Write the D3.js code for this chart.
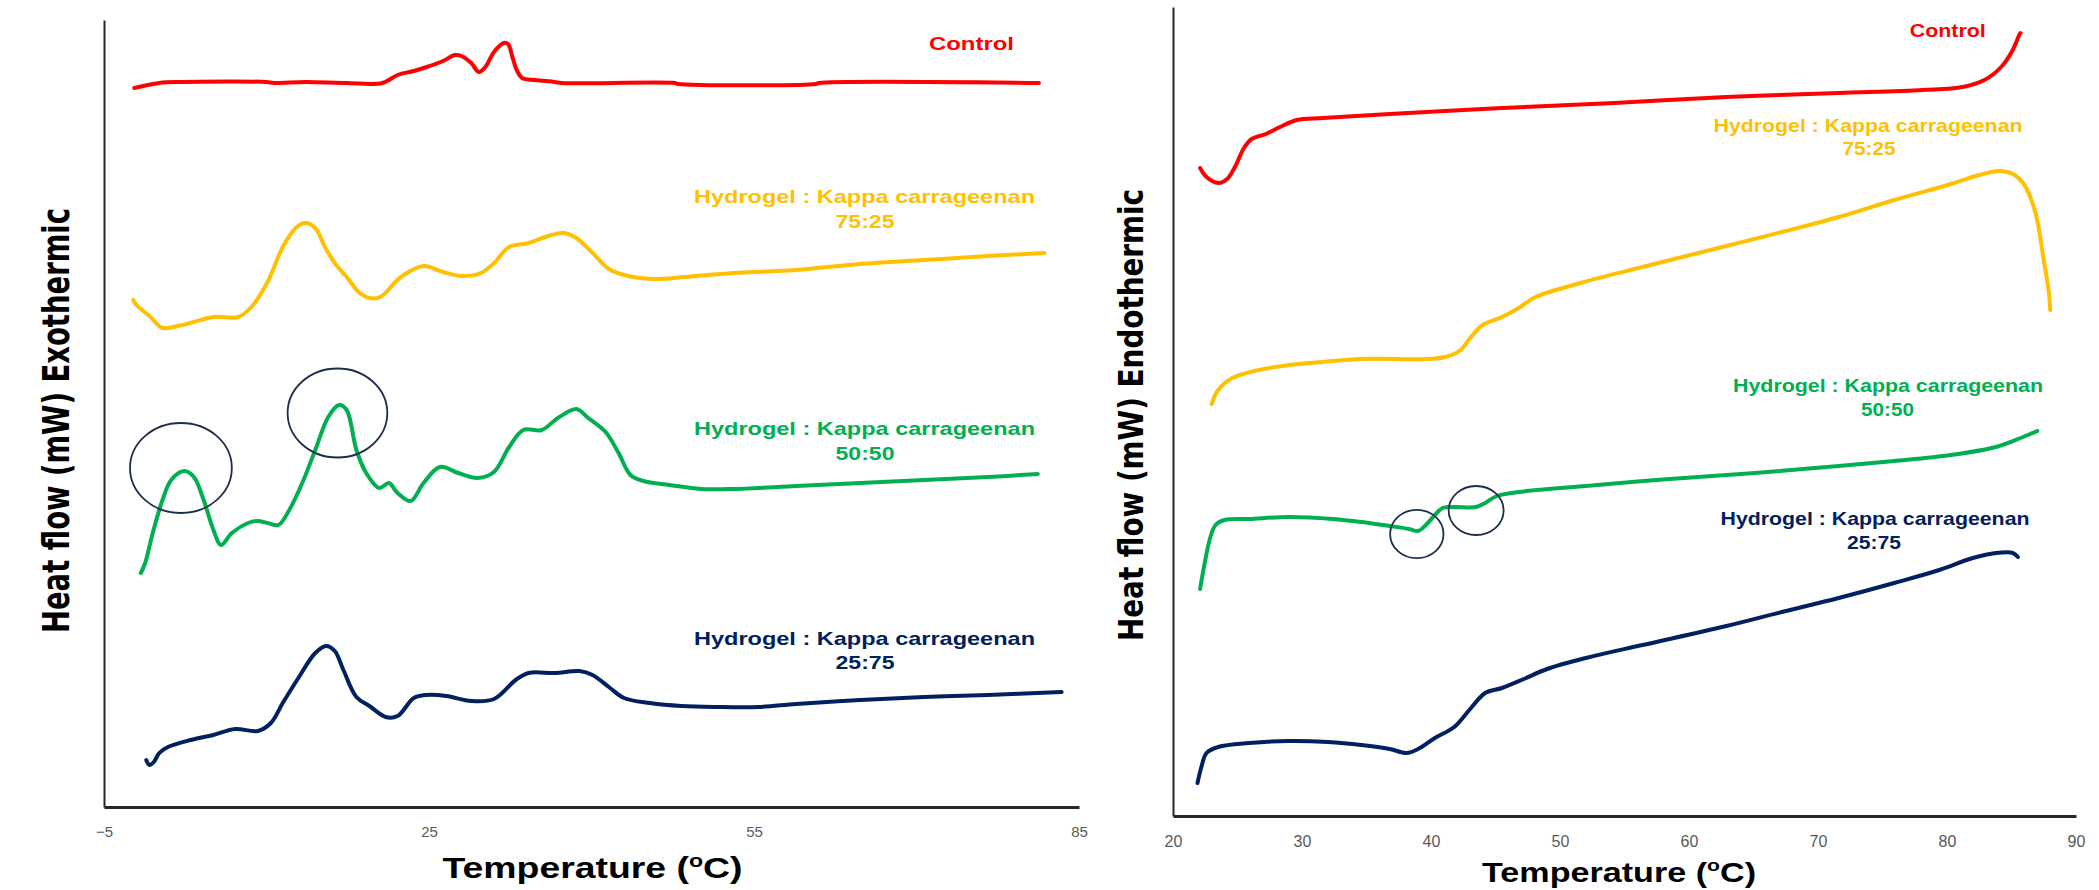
<!DOCTYPE html>
<html>
<head>
<meta charset="utf-8">
<script src="https://cdn.jsdelivr.net/npm/d3@7"></script>
<style>
html,body{margin:0;padding:0;background:#fff;}
svg{display:block;}
</style>
</head>
<body>
<svg id="chart" width="2099" height="890"></svg>
<script>
// ---------- DATA ----------
// Left panel (exothermic), temperature (°C) and heat flow (arbitrary mW units)
const leftTicks = [-5, 25, 55, 85];
const leftControlT = [-2.2,0.1,2.1,10.0,10.7,13.6,17.4,20.7,22.1,23.6,24.8,26.3,27.4,28.0,28.9,29.6,30.2,31.0,31.9,32.3,32.7,33.1,33.6,34.8,36.6,37.2,47.7,48.0,60.7,61.0,81.3];
const leftControlV = [71.9,72.4,72.5,72.5,72.4,72.5,72.4,72.4,73.2,73.6,74.0,74.6,75.2,75.1,74.4,73.5,74.0,75.5,76.4,76.3,75.0,73.7,72.9,72.7,72.5,72.4,72.4,72.3,72.3,72.4,72.4];
const left7525T = [-2.3,-2.0,-0.8,0.4,1.8,3.3,5.1,7.4,8.6,10.1,11.5,12.7,13.6,14.5,15.4,16.3,17.4,18.6,19.5,20.5,22.4,24.5,26.3,28.0,29.8,31.0,32.4,34.2,36.0,37.4,38.6,40.1,41.6,43.0,45.7,48.6,53.1,58.9,64.8,70.7,76.6,81.8];
const left7525V = [50.7,50.2,49.1,47.9,48.1,48.5,49.0,49.0,50.0,52.5,56.0,57.9,58.4,57.9,56.0,54.4,53.0,51.4,50.9,51.0,53.0,54.1,53.5,53.1,53.4,54.4,56.0,56.4,57.1,57.4,56.9,55.4,53.8,53.2,52.8,53.0,53.4,53.7,54.3,54.7,55.1,55.4];
const left5050T = [-1.6,-1.2,-0.5,0.4,1.2,2.4,3.3,4.2,5.1,5.8,6.8,8.3,9.2,10.1,11.1,12.1,13.3,14.5,15.7,16.7,17.4,18.3,19.2,20.4,21.3,22.1,23.3,24.5,26.0,27.7,29.5,31.0,32.4,33.7,35.4,36.9,38.6,39.7,41.3,42.5,43.6,44.8,47.2,50.1,53.1,58.9,64.8,70.7,76.6,81.2];
const left5050V = [23.4,24.4,27.4,30.7,32.7,33.6,33.0,30.7,27.7,26.2,27.4,28.4,28.6,28.4,28.2,29.7,32.4,35.7,39.0,40.2,39.7,35.7,33.4,31.9,32.4,31.4,30.6,32.4,34.0,33.4,32.9,33.5,36.0,37.7,37.7,38.9,39.8,38.9,37.5,35.4,33.2,32.6,32.2,31.8,31.8,32.1,32.4,32.7,33.0,33.3];
const left2575T = [-1.1,-0.8,-0.4,0.1,0.9,3.0,5.1,7.1,9.2,10.4,11.5,13.0,14.5,15.5,16.3,17.1,18.3,19.5,21.0,22.1,23.6,24.8,26.6,28.9,31.0,33.0,34.2,36.6,38.9,40.1,41.6,43.0,45.4,48.3,51.6,55.4,58.9,64.8,70.7,76.6,83.4];
const left2575V = [4.7,4.2,4.5,5.4,6.0,6.7,7.2,7.8,7.6,8.4,10.4,13.0,15.4,16.1,15.6,13.7,11.0,10.1,9.0,9.1,10.9,11.2,11.1,10.6,10.8,12.7,13.4,13.4,13.6,13.2,12.0,10.9,10.4,10.1,10.0,10.0,10.3,10.7,11.0,11.2,11.5];
// highlighted regions (centre T, centre V, half-width in °C, half-height in value units)
const leftMarksT = [2.1, 16.55];
const leftMarksV = [33.9, 39.4];
const leftMarksRT = [4.7, 4.6];
const leftMarksRV = [4.5, 4.45];

// Right panel (endothermic)
const rightTicks = [20, 30, 40, 50, 60, 70, 80, 90];
const rightControlT = [22.1,22.6,23.5,24.2,24.8,25.5,26.1,27.2,28.3,29.6,31.6,36.8,45.5,54.2,62.9,71.6,78.1,81.2,82.9,84.2,85.1,85.6,85.7];
const rightControlV = [64.8,63.9,63.3,63.7,64.9,66.8,67.7,68.2,68.9,69.6,69.8,70.2,70.8,71.3,71.9,72.3,72.6,72.9,73.6,74.9,76.6,78.1,78.3];
const right7525T = [23.0,23.5,24.6,26.3,29.0,31.6,34.6,39.8,41.1,42.2,43.1,44.0,45.5,46.8,48.1,51.6,56.4,62.9,67.2,71.6,75.9,80.3,82.5,84.0,85.1,85.9,86.8,87.5,87.9,88.0];
const right7525V = [41.2,42.6,43.8,44.5,45.1,45.4,45.7,45.7,45.9,46.5,47.9,49.1,49.9,50.8,51.9,53.3,54.9,57.0,58.4,59.9,61.6,63.2,64.1,64.5,64.2,63.3,60.6,55.6,52.3,50.6];
const right5050T = [22.1,22.4,22.9,23.3,24.0,25.9,29.0,32.4,34.6,36.8,38.3,39.0,39.6,40.3,40.9,41.8,43.5,44.2,45.1,46.8,52.0,58.5,65.1,71.6,75.9,80.3,83.8,85.9,87.0];
const right5050V = [22.7,24.9,27.9,29.1,29.6,29.7,29.9,29.7,29.4,29.0,28.7,28.5,29.1,30.1,30.8,30.9,30.9,31.3,32.0,32.4,33.0,33.7,34.3,35.0,35.5,36.1,36.9,37.9,38.5];
const right2575T = [21.9,22.2,22.6,23.5,25.9,29.0,32.0,34.6,36.8,38.1,39.0,40.3,41.8,43.1,44.2,45.5,47.2,49.0,52.0,56.4,62.9,67.2,71.6,75.9,79.4,82.0,83.8,85.1,85.5];
const right2575V = [3.3,4.9,6.3,6.9,7.3,7.5,7.4,7.1,6.7,6.3,6.7,7.8,8.9,10.8,12.3,12.8,13.7,14.7,15.8,17.1,19.0,20.4,21.8,23.3,24.6,25.8,26.3,26.3,25.9];
const rightMarksT = [38.9, 43.5];
const rightMarksV = [28.2, 30.55];
const rightMarksRT = [2.07, 2.13];
const rightMarksRV = [2.42, 2.45];

const seriesNames = ["Control", "Hydrogel : Kappa carrageenan", "Hydrogel : Kappa carrageenan", "Hydrogel : Kappa carrageenan"];
const seriesRatios = ["", "75:25", "50:50", "25:75"];
const colors = ["#FF0000", "#FFC000", "#00B050", "#002060"];

// ---------- DRAW ----------
const svg = d3.select("#chart");
svg.append("rect").attr("width", 2099).attr("height", 890).attr("fill", "#fff");

const xL = d3.scaleLinear().domain([-5, 85]).range([104, 1079]);
const yL = d3.scaleLinear().domain([0, 78.7]).range([807, 20]);
const xR = d3.scaleLinear().domain([20, 90]).range([1173, 2076]);
const yR = d3.scaleLinear().domain([0, 80.9]).range([816, 7]);

const labelFont = "'Liberation Sans', Arial, sans-serif";
const titleFont = "'DejaVu Sans', Verdana, sans-serif";

function drawPanel(cfg) {
  const g = svg.append("g");
  // axes
  const xa = g.append("g").attr("transform", `translate(0,${cfg.y.range()[0]})`)
    .call(d3.axisBottom(cfg.x).tickValues(cfg.ticks).tickSize(0).tickSizeOuter(0).tickFormat(d3.format("d")));
  xa.select(".domain").attr("stroke", "#262626").attr("stroke-width", 3);
  xa.selectAll("text").attr("y", cfg.tickY).attr("dy", 0)
    .attr("font-family", "'Liberation Sans Narrow', 'Liberation Sans', Arial, sans-serif")
    .attr("font-size", cfg.tickSize).attr("fill", "#595959");
  const ya = g.append("g").attr("transform", `translate(${cfg.x.range()[0]},0)`)
    .call(d3.axisLeft(cfg.y).tickValues([]).tickSizeOuter(0));
  ya.select(".domain").attr("stroke", "#262626").attr("stroke-width", 2);

  const line = d3.line().x(d => cfg.x(d[0])).y(d => cfg.y(d[1])).curve(d3.curveCatmullRom.alpha(0.5));
  cfg.series.forEach((s, i) => {
    const pts = d3.zip(s[0], s[1]);
    g.append("path").datum(pts).attr("d", line)
      .attr("fill", "none").attr("stroke", colors[i]).attr("stroke-width", 4)
      .attr("stroke-linejoin", "round").attr("stroke-linecap", "round");
  });

  // highlight ellipses
  cfg.marks[0].forEach((t, i) => {
    const cx = cfg.x(t), cy = cfg.y(cfg.marks[1][i]);
    g.append("ellipse").attr("cx", cx).attr("cy", cy)
      .attr("rx", cfg.x(t + cfg.marks[2][i]) - cx)
      .attr("ry", cy - cfg.y(cfg.marks[1][i] + cfg.marks[3][i]))
      .attr("fill", "none").attr("stroke", "#1F2D4D").attr("stroke-width", 1.8);
  });

  // series labels
  cfg.labels.forEach((l, i) => {
    g.append("text").attr("x", l[0]).attr("y", l[1]).attr("text-anchor", "middle")
      .attr("font-family", labelFont).attr("font-weight", "bold").attr("font-size", 19)
      .attr("fill", colors[i]).attr("textLength", l[2]).attr("lengthAdjust", "spacingAndGlyphs")
      .text(seriesNames[i]);
    if (seriesRatios[i]) {
      g.append("text").attr("x", l[3]).attr("y", l[4]).attr("text-anchor", "middle")
        .attr("font-family", labelFont).attr("font-weight", "bold").attr("font-size", 19)
        .attr("fill", colors[i]).attr("textLength", l[5]).attr("lengthAdjust", "spacingAndGlyphs")
        .text(seriesRatios[i]);
    }
  });

  // x title
  const fs = cfg.xTitle[3];
  const xt = g.append("text").attr("x", cfg.xTitle[0]).attr("y", cfg.xTitle[1]).attr("text-anchor", "middle")
    .attr("font-family", labelFont).attr("font-weight", "bold").attr("font-size", fs)
    .attr("fill", "#000").attr("textLength", cfg.xTitle[2]).attr("lengthAdjust", "spacingAndGlyphs");
  xt.append("tspan").text("Temperature (");
  xt.append("tspan").attr("dy", -fs * 0.38).attr("font-size", fs * 0.62).text("o");
  xt.append("tspan").attr("dy", fs * 0.38).text("C)");

  // y title
  g.append("text").attr("transform", `translate(${cfg.yTitle[0]},${cfg.yTitle[1]}) rotate(-90)`)
    .attr("text-anchor", "middle").attr("font-family", titleFont).attr("font-weight", "bold")
    .attr("font-size", cfg.yTitle[3]).attr("fill", "#000")
    .attr("textLength", cfg.yTitle[2]).attr("lengthAdjust", "spacingAndGlyphs")
    .text(cfg.yTitle[4]);
}

drawPanel({
  x: xL, y: yL, ticks: leftTicks, tickY: 30, tickSize: 15,
  series: [[leftControlT, leftControlV], [left7525T, left7525V], [left5050T, left5050V], [left2575T, left2575V]],
  marks: [leftMarksT, leftMarksV, leftMarksRT, leftMarksRV],
  labels: [[971.5, 50, 85], [864.5, 202.7, 341, 865, 228.3, 59], [864.5, 434.5, 341, 865, 459.5, 59], [864.5, 644.5, 341, 865, 669, 59]],
  xTitle: [592.5, 878, 300, 29],
  yTitle: [69, 420.5, 425, 38, "Heat flow (mW) Exothermic"]
});

drawPanel({
  x: xR, y: yR, ticks: rightTicks, tickY: 31, tickSize: 16,
  series: [[rightControlT, rightControlV], [right7525T, right7525V], [right5050T, right5050V], [right2575T, right2575V]],
  marks: [rightMarksT, rightMarksV, rightMarksRT, rightMarksRV],
  labels: [[1947.8, 37.3, 76], [1868, 132, 309, 1869, 155, 53], [1888, 391.7, 310, 1887.5, 416, 53], [1875, 525, 309, 1874, 549.3, 54]],
  xTitle: [1619, 882, 274, 28],
  yTitle: [1143, 415, 452, 33, "Heat flow (mW) Endothermic"]
});
</script>
</body>
</html>
